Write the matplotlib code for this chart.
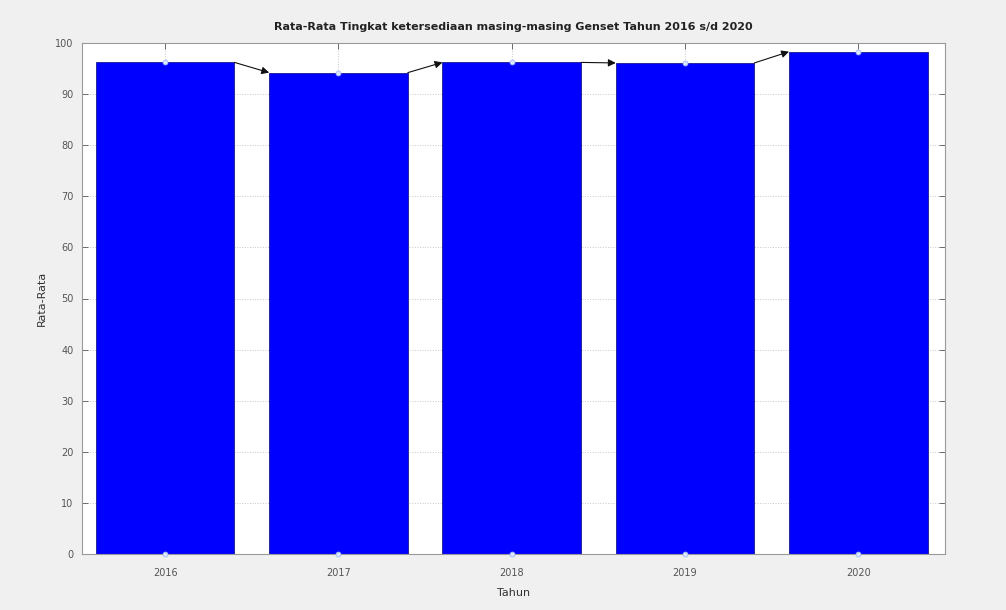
import matplotlib.pyplot as plt
from matplotlib.ticker import MultipleLocator

tahun = [2016, 2017, 2018, 2019, 2020]
rata_rata = [96.2, 94.2, 96.2, 96.1, 98.3]

fig = plt.figure(figsize=(10.06, 6.10), dpi=100, facecolor="#f0f0f0")
ax = fig.add_axes([82 / 1006, 1 - 554 / 610, (945 - 82) / 1006, (554 - 43) / 610])
ax.set_facecolor("white")

lebar = 0.8
ax.bar(tahun, rata_rata, width=lebar, color="#0000ff", edgecolor="#1a1a8c", linewidth=0.6, zorder=2)

# titik penanda di puncak dan dasar batang
ax.plot(tahun, rata_rata, linestyle="none", marker="o", markersize=3.5,
        markerfacecolor="#dde8ff", markeredgecolor="#9fb4ff", markeredgewidth=0.6, zorder=4)
ax.plot(tahun, [0] * len(tahun), linestyle="none", marker="o", markersize=3.5,
        markerfacecolor="#dde8ff", markeredgecolor="#9fb4ff", markeredgewidth=0.6, zorder=4, clip_on=False)

# panah dari ujung kanan batang ke ujung kiri batang berikutnya
for i in range(len(tahun) - 1):
    ax.annotate("", xy=(tahun[i + 1] - lebar / 2, rata_rata[i + 1]),
                xytext=(tahun[i] + lebar / 2, rata_rata[i]),
                arrowprops=dict(arrowstyle="-|>", color="#111111", lw=0.8, mutation_scale=11,
                                shrinkA=0, shrinkB=0), zorder=5)

ax.set_xlim(2015.52, 2020.5)
ax.set_ylim(0, 100)
ax.set_xticks(tahun)
ax.yaxis.set_major_locator(MultipleLocator(10))
ax.grid(True, linestyle=":", color="#c8c8c8", linewidth=0.7, zorder=0)
ax.set_axisbelow(True)

ax.tick_params(direction="in", top=True, right=True, length=4, width=0.6,
               colors="#555555", labelsize=7, labelcolor="#555555")
ax.tick_params(axis="x", pad=10)
ax.tick_params(axis="y", pad=6)
for s in ax.spines.values():
    s.set_color("#9a9a9a")
    s.set_linewidth(0.8)

ax.set_title("Rata-Rata Tingkat ketersediaan masing-masing Genset Tahun 2016 s/d 2020",
             fontsize=8, fontweight="bold", color="#222222", pad=9)
ax.set_xlabel("Tahun", fontsize=8, color="#333333", labelpad=7)
ax.set_ylabel("Rata-Rata", fontsize=8, color="#333333", labelpad=6)

fig.savefig("out.png", dpi=100, facecolor=fig.get_facecolor())
